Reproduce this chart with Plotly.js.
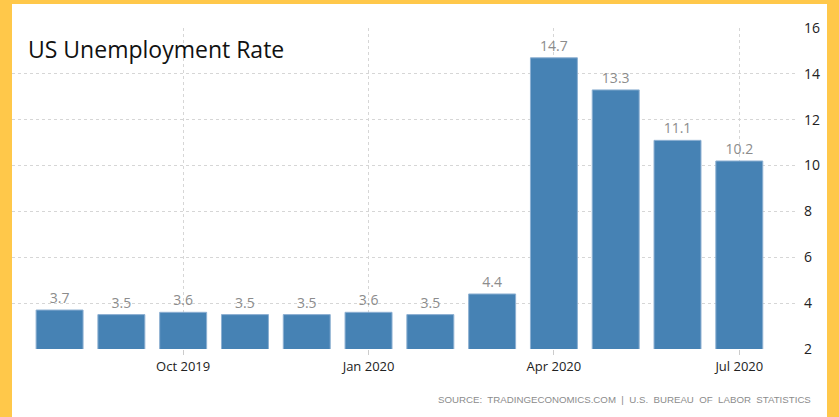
<!DOCTYPE html>
<html>
<head>
<meta charset="utf-8">
<script src="https://cdn.plot.ly/plotly-3.0.1.min.js"></script>
<style>
  html, body { margin: 0; padding: 0; background: #ffffff; }
  #chart { width: 839px; height: 417px; }
</style>
</head>
<body>
<div id="chart"></div>
<script>
// Monthly US unemployment rate, Aug 2019 - Jul 2020
const months = ['Aug 2019', 'Sep 2019', 'Oct 2019', 'Nov 2019', 'Dec 2019', 'Jan 2020',
                'Feb 2020', 'Mar 2020', 'Apr 2020', 'May 2020', 'Jun 2020', 'Jul 2020'];
const rates = [3.7, 3.5, 3.6, 3.5, 3.5, 3.6, 3.5, 4.4, 14.7, 13.3, 11.1, 10.2];
const tickMonths = ['Oct 2019', 'Jan 2020', 'Apr 2020', 'Jul 2020'];
const yTicks = [2, 4, 6, 8, 10, 12, 14, 16];

const barTrace = {
    x: months,
    y: rates,
    type: 'bar',
    marker: {
        color: '#4682b4',
        line: { color: '#8db0d2', width: 1 }
    },
    text: rates.map(v => v.toFixed(1)),
    textposition: 'outside',
    cliponaxis: false,
    textfont: { family: 'Open Sans, sans-serif', size: 14, color: '#8c8c8c' },
    hoverinfo: 'x+y'
};

const layout = {
    width: 839,
    height: 417,
    margin: { l: 12, r: 41, t: 28, b: 68 },
    paper_bgcolor: '#ffc84a',
    plot_bgcolor: 'rgba(0,0,0,0)',
    showlegend: false,
    bargap: 0.24,
    xaxis: {
        type: 'category',
        range: [-0.77, 11.95],
        tickvals: tickMonths,
        ticktext: tickMonths,
        ticks: 'outside',
        ticklen: 5,
        tickcolor: '#cccccc',
        showgrid: true,
        gridcolor: '#d6d6d6',
        griddash: 'dot',
        gridwidth: 1,
        showline: false,
        zeroline: false,
        tickfont: { family: 'Open Sans, sans-serif', size: 13, color: '#222222' }
    },
    yaxis: {
        side: 'right',
        range: [2, 16],
        tickvals: yTicks,
        showgrid: true,
        gridcolor: '#d6d6d6',
        griddash: 'dot',
        gridwidth: 1,
        zeroline: false,
        showline: false,
        ticks: '',
        ticklabelstandoff: 5,
        tickfont: { family: 'Open Sans, sans-serif', size: 14, color: '#222222' }
    },
    shapes: [{
        // white card inside the yellow frame
        type: 'rect',
        xref: 'paper', yref: 'paper',
        x0: 0, x1: 815 / 786,
        y0: -68 / 321, y1: 345 / 321,
        fillcolor: '#ffffff',
        line: { width: 0 },
        layer: 'below'
    }],
    annotations: [
        {
            text: 'US Unemployment Rate',
            xref: 'paper', yref: 'paper',
            x: 14 / 786, y: 300 / 321,
            xanchor: 'left', yanchor: 'middle',
            showarrow: false,
            font: { family: 'Open Sans, sans-serif', size: 23, weight: 500, color: '#111111' }
        },
        {
            text: 'SOURCE:  TRADINGECONOMICS.COM  |  U.S.  BUREAU  OF  LABOR  STATISTICS',
            xref: 'paper', yref: 'paper',
            x: 801 / 786, y: -50 / 321,
            xanchor: 'right', yanchor: 'middle',
            showarrow: false,
            font: { family: 'Liberation Sans, sans-serif', size: 9.7, color: '#8c8c8c' }
        }
    ]
};

const config = {
    responsive: false,
    displayModeBar: false
};

Plotly.newPlot('chart', [barTrace], layout, config);
</script>
</body>
</html>
